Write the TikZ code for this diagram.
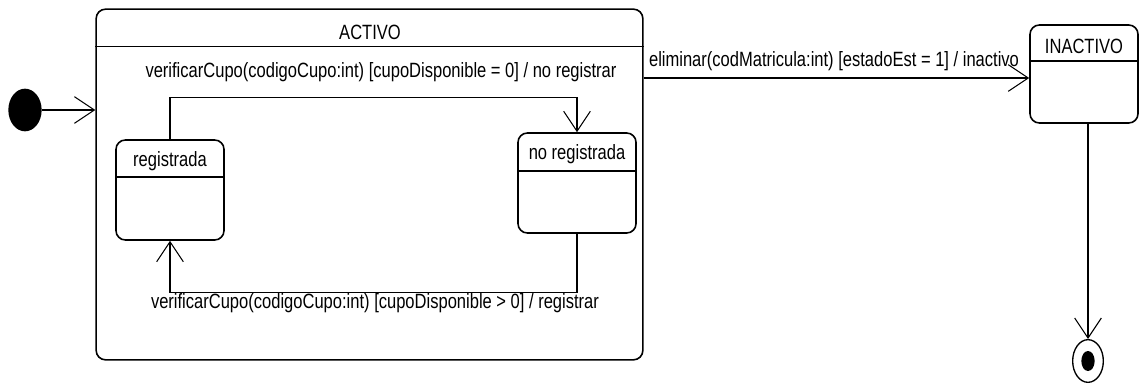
\documentclass[tikz,border=0pt]{standalone}
\usepackage{fontspec}
\setmainfont{Liberation Sans}[FakeStretch=0.8]
\usetikzlibrary{arrows.meta,shapes.geometric}

\begin{document}
\begin{tikzpicture}[x=0.75pt,y=-0.75pt,
  state/.style={draw,line width=1.2pt,rounded corners=7pt,inner sep=0pt},
  lbl/.style={font=\fontsize{15.5}{17}\selectfont,inner sep=0pt},
  arr/.style={-{Straight Barb[length=15pt,width=20pt,line width=0.8pt]},line width=0.8pt}]
  \useasboundingbox (0,0) rectangle (1139,385);
  % Initial state
  \node[ellipse,fill=black,minimum width=25pt,minimum height=32pt,inner sep=0pt] (init) at (25,110) {};
  % Composite state ACTIVO
  \node[state,minimum width=410pt,minimum height=263pt] (activo) at (369.5,184.5) {};
  \draw[line width=1.2pt] ([yshift=-28.5pt]activo.north west) -- ([yshift=-28.5pt]activo.north east);
  \node[lbl] (activot) at (370,32) {ACTIVO};
  % Substates
  \node[state,minimum width=81pt,minimum height=75pt] (reg) at (170,190) {};
  \draw[line width=1.2pt] ([yshift=-28.5pt]reg.north west) -- ([yshift=-28.5pt]reg.north east);
  \node[lbl] (regt) at (170,161) {registrada};
  \node[state,minimum width=88.5pt,minimum height=75pt] (noreg) at (577,183) {};
  \draw[line width=1.2pt] ([yshift=-29pt]noreg.north west) -- ([yshift=-29pt]noreg.north east);
  \node[lbl] (noregt) at (577,154) {no registrada};
  % State INACTIVO
  \node[state,minimum width=81pt,minimum height=73.5pt] (inact) at (1084,74) {};
  \draw[line width=1.2pt] ([yshift=-27.75pt]inact.north west) -- ([yshift=-27.75pt]inact.north east);
  \node[lbl] (inactt) at (1084,46) {INACTIVO};
  % Final state
  \node[ellipse,draw,line width=1pt,minimum width=23pt,minimum height=32pt,inner sep=0pt] (final) at (1088,361) {};
  \node[ellipse,fill=black,minimum width=10pt,minimum height=15pt,inner sep=0pt] (finalc) at (final) {};
  % Transitions
  \draw[arr] (init) -- (init -| activo.west);
  \draw[arr] (reg.north) -- ++(0,-42) -| (noreg.north);
  \node[lbl] (t1) at (381,72) {verificarCupo(codigoCupo:int) [cupoDisponible = 0] / no registrar};
  \draw[arr] (noreg.south) -- ++(0,59) -| (reg.south);
  \node[lbl] (t2) at (375,303) {verificarCupo(codigoCupo:int) [cupoDisponible > 0] / registrar};
  \draw[arr] ([yshift=-3pt]activo.east |- inact.west) -- ([yshift=-3pt]inact.west);
  \node[lbl] (t3) at (834,61) {eliminar(codMatricula:int) [estadoEst = 1] / inactivo};
  \draw[arr] (inact.south -| final) -- (final.north);
\end{tikzpicture}
\end{document}
